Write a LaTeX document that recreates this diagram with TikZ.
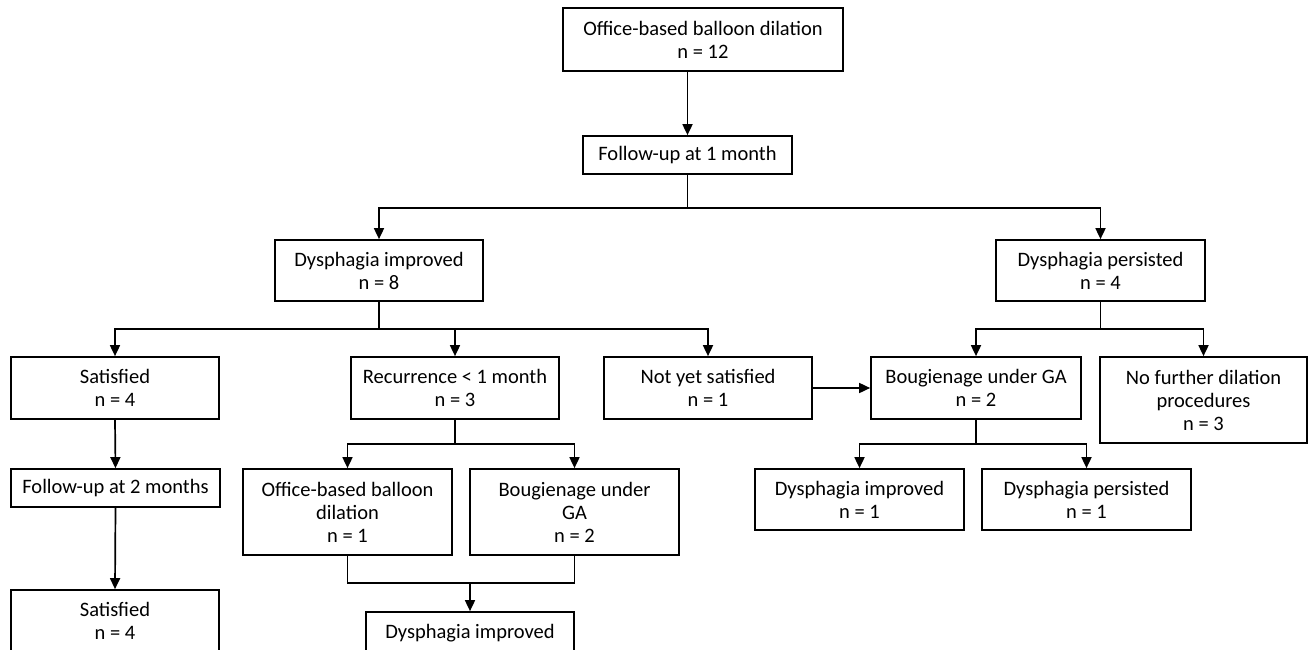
\documentclass[tikz,border=0pt]{standalone}
\usepackage{fontspec}
\setmainfont{Carlito}
\usetikzlibrary{arrows.meta}
\tikzset{
  box/.style={draw, line width=1.7pt, align=center, inner sep=0pt,
    font=\fontsize{20.5}{23}\selectfont},
  ln/.style={line width=1.7pt},
  arr/.style={line width=1.7pt, -{Triangle[length=11pt,width=10pt]}},
}
\begin{document}
\begin{tikzpicture}[x=1pt,y=-1pt]
\useasboundingbox (0,0) rectangle (1309,650);
\clip (0,0) rectangle (1309,650);
% nodes
\node[box, minimum width=280pt, minimum height=63pt] (top) at (703,39.5) {Office-based balloon dilation\\n = 12};
\node[box, minimum width=209pt, minimum height=38pt] (fu1) at (687.5,155) {Follow-up at 1 month};
\node[box, minimum width=208pt, minimum height=61pt] (dimp) at (379,270.5) {Dysphagia improved\\n = 8};
\node[box, minimum width=209pt, minimum height=61pt] (dper) at (1100.5,270.5) {Dysphagia persisted\\n = 4};
\node[box, minimum width=208pt, minimum height=62pt] (sat1) at (115,388) {Satisfied\\n = 4};
\node[box, minimum width=208pt, minimum height=62pt] (rec) at (455,388) {Recurrence < 1 month\\n = 3};
\node[box, minimum width=208pt, minimum height=62pt] (nys) at (708,388) {Not yet satisfied\\n = 1};
\node[box, minimum width=210pt, minimum height=62pt] (boug) at (976,388) {Bougienage under GA\\n = 2};
\node[box, minimum width=207pt, minimum height=86pt] (nofur) at (1203.5,400) {No further dilation\\procedures\\n = 3};
\node[box, minimum width=209pt, minimum height=38pt] (fu2) at (115.5,488) {Follow-up at 2 months};
\node[box, minimum width=208pt, minimum height=62pt] (sat2) at (115,621) {Satisfied\\n = 4};
\node[box, minimum width=209pt, minimum height=86pt] (obd) at (347.5,512) {Office-based balloon\\dilation\\n = 1};
\node[box, minimum width=209pt, minimum height=86pt] (bug2) at (574.5,512) {Bougienage under\\GA\\n = 2};
\node[box, minimum width=208pt, minimum height=62pt] (dimp3) at (470,643) {Dysphagia improved\\\phantom{n = 3}};
\node[box, minimum width=209pt, minimum height=61pt] (dimp2) at (859.5,499.5) {Dysphagia improved\\n = 1};
\node[box, minimum width=209pt, minimum height=61pt] (dper2) at (1086.5,499.5) {Dysphagia persisted\\n = 1};
% junctions
\coordinate (j1) at (687.5,208);
\coordinate (j2) at (379,329);
\coordinate (j3) at (1100.5,329);
\coordinate (j4) at (455,444);
\coordinate (j5) at (470,583);
\coordinate (j6) at (976,444);
% connectors
\draw[arr] (top.south -| fu1.north) -- (fu1.north);
\draw[ln] (fu1.south) -- (j1);
\draw[arr] (j1) -| (dimp.north);
\draw[arr] (j1) -| (dper.north);
\draw[ln] (dimp.south) -- (j2);
\draw[arr] (j2) -| (sat1.north);
\draw[arr] (j2) -| (rec.north);
\draw[arr] (j2) -| (nys.north);
\draw[ln] (dper.south) -- (j3);
\draw[arr] (j3) -| (boug.north);
\draw[arr] (j3) -| (nofur.north);
\draw[arr] (nys.east) -- (boug.west);
\draw[arr] (sat1.south) -- (fu2.north);
\draw[arr] (fu2.south) -- (sat2.north);
\draw[ln] (rec.south) -- (j4);
\draw[arr] (j4) -| (obd.north);
\draw[arr] (j4) -| (bug2.north);
\draw[ln] (obd.south) |- (j5);
\draw[ln] (bug2.south) |- (j5);
\draw[arr] (j5) -- (dimp3.north);
\draw[ln] (boug.south) -- (j6);
\draw[arr] (j6) -| (dimp2.north);
\draw[arr] (j6) -| (dper2.north);
\end{tikzpicture}
\end{document}
